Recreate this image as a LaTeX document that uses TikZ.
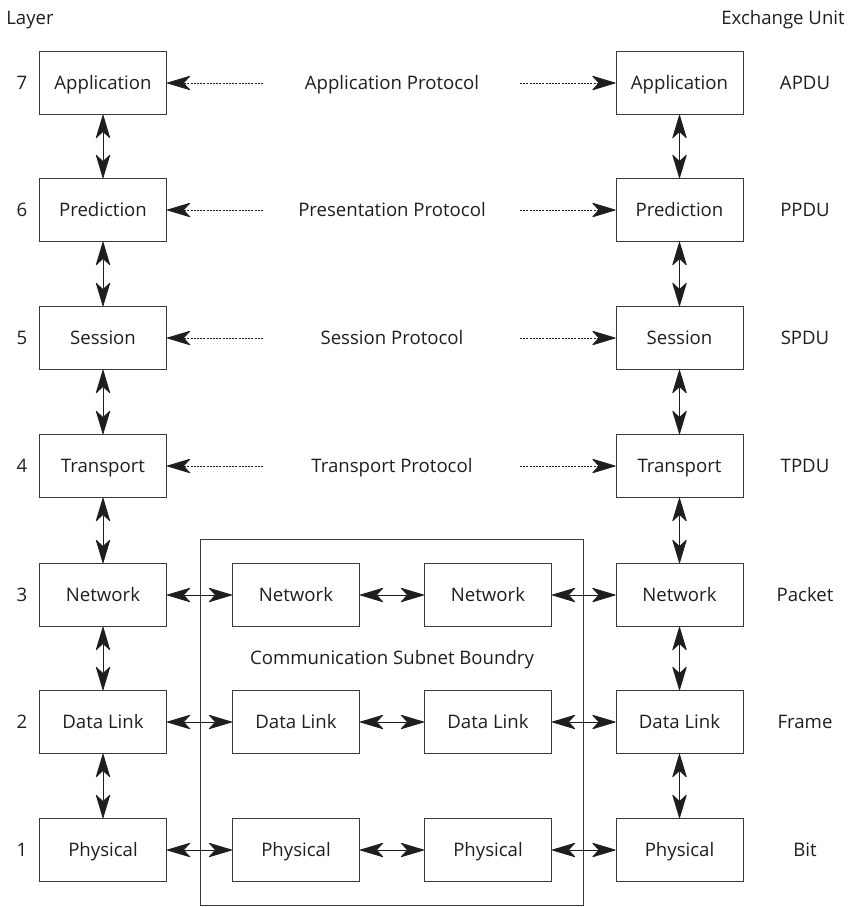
\documentclass[tikz,border=0pt]{standalone}
\usepackage{fontspec}
\setmainfont{Open Sans}
\usetikzlibrary{arrows.meta}
\definecolor{ink}{HTML}{1E1E1E}
\definecolor{rule}{HTML}{3A3A3A}
\tikzset{
  head/.tip={Stealth[length=25pt,width=15pt,inset=7pt,round=false]}
}
\begin{document}
\begin{tikzpicture}[x=1pt,y=-1pt,
  every node/.style={font=\fontsize{18.6}{22}\selectfont, text=ink, text height=13pt, text depth=0pt},
  layerbox/.style={draw=rule, line width=0.9pt, minimum width=127pt, minimum height=63pt, inner sep=0pt},
  link/.style={draw=ink, line width=0.8pt, {head}-{head}},
  peer/.style={draw=ink, line width=0.8pt, dash pattern=on 2pt off 1.2pt, -{head}},
  plain/.style={inner sep=0pt}]
\useasboundingbox (0,0) rectangle (850,907);

% headings
\node[plain] (hlayer) at (30,18.5) {Layer};
\node[plain] (hunit) at (783,18.5) {Exchange Unit};

% communication subnet boundary
\draw[rule, line width=0.9pt] (200,539) rectangle (583,905.5);
\node[plain] (subnet) at (392,658) {Communication Subnet Boundry};

% end-system stacks, layer numbers and exchange units
\foreach \n/\y/\name/\unit in {7/83/Application/APDU, 6/210/Prediction/PPDU, 5/338/Session/SPDU, 4/466/Transport/TPDU, 3/595/Network/Packet, 2/722/Data Link/Frame, 1/850/Physical/Bit}{
  \node[layerbox] (L\n) at (103,\y) {\name};
  \node[layerbox] (R\n) at (679.5,\y) {\name};
  \node[plain] (num\n) at (22,\y) {\n};
  \node[plain] (unit\n) at (805,\y) {\unit};
}

% subnet relay nodes
\foreach \n/\y/\name in {3/595/Network, 2/722/Data Link, 1/850/Physical}{
  \node[layerbox] (A\n) at (296,\y) {\name};
  \node[layerbox] (B\n) at (488,\y) {\name};
}

% peer protocols
\foreach \n/\y/\proto in {7/83/Application Protocol, 6/210/Presentation Protocol, 5/338/Session Protocol, 4/466/Transport Protocol}{
  \node[plain] (P\n) at (392,\y) {\proto};
  \coordinate (pl\n) at (263,\y);
  \coordinate (pr\n) at (520,\y);
  \draw[peer] (pl\n) -- (L\n.east);
  \draw[peer] (pr\n) -- (R\n.west);
}

% vertical interfaces between adjacent layers
\foreach \a/\b in {7/6, 6/5, 5/4, 4/3, 3/2, 2/1}{
  \draw[link] (L\a.south) -- (L\b.north);
  \draw[link] (R\a.south) -- (R\b.north);
}

% horizontal links through the subnet
\foreach \n in {3,2,1}{
  \draw[link] (L\n.east) -- (A\n.west);
  \draw[link] (A\n.east) -- (B\n.west);
  \draw[link] (B\n.east) -- (R\n.west);
}
\end{tikzpicture}
\end{document}
